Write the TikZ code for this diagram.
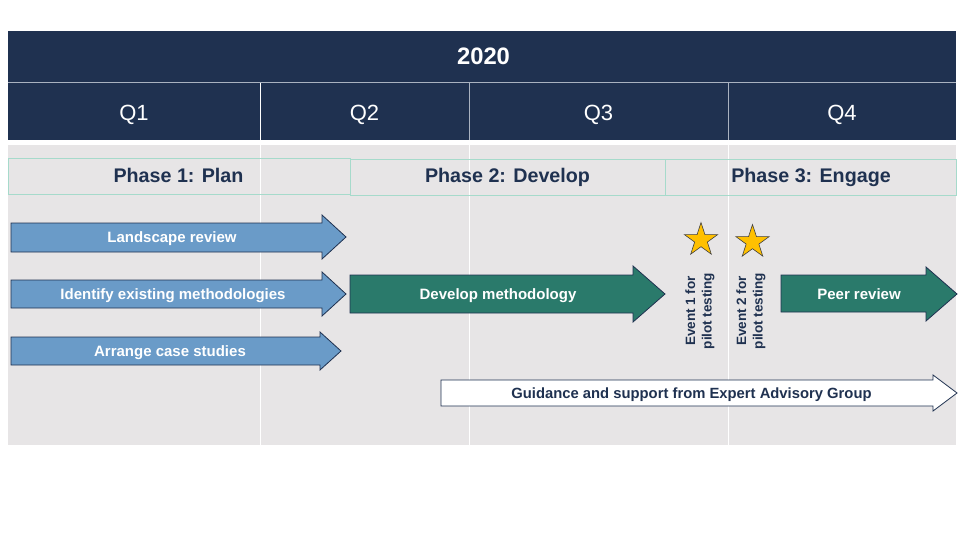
\documentclass[tikz,border=0pt]{standalone}
\usepackage{fontspec}
\setmainfont{Liberation Sans}
\usetikzlibrary{shapes.geometric}
\definecolor{navy}{HTML}{1F3150}
\definecolor{bodygray}{HTML}{E7E5E6}
\definecolor{hdrline}{HTML}{A9B2C0}
\definecolor{phaseline}{HTML}{A6DACB}
\definecolor{blueblock}{HTML}{6A9BC8}
\definecolor{greenblock}{HTML}{2A7A6B}
\definecolor{stargold}{HTML}{FFC000}
\tikzset{
  bluearrow/.style={fill=blueblock,draw=navy,line width=0.8pt},
  greenarrow/.style={fill=greenblock,draw=navy,line width=0.8pt},
  whitearrow/.style={fill=white,draw=navy,line width=0.8pt},
  arrowtext/.style={text=white,font=\bfseries\fontsize{15}{18}\selectfont,inner sep=0pt,text height=10.7pt,text depth=0pt},
  phasebox/.style={draw=phaseline,line width=0.8pt,text=navy,font=\bfseries\fontsize{19.7}{22}\selectfont,inner sep=0pt,minimum height=36pt,text height=14.1pt,text depth=0pt},
  quarter/.style={text=white,font=\fontsize{22}{26}\selectfont,inner sep=0pt,text height=15.8pt,text depth=0pt},
  eventtext/.style={text=navy,font=\bfseries\fontsize{13.5}{16.5}\selectfont,rotate=90,align=center,inner sep=0pt},
  goldstar/.style={star,star points=5,star point ratio=2.618,minimum size=35pt,inner sep=0pt,fill=stargold,draw=black!75,line width=0.6pt}
}
\begin{document}
\begin{tikzpicture}[x=1pt,y=-1pt]
\useasboundingbox (0,0) rectangle (960,540);
% header
\fill[navy] (8,31) rectangle (956,140);
\draw[hdrline,line width=1pt] (8,82.5)--(956,82.5);
\draw[white,line width=0.8pt] (260,83)--(260,140);
\draw[hdrline,line width=0.8pt] (469,83)--(469,140);
\draw[hdrline,line width=0.8pt] (728,83)--(728,140);
\node[text=white,font=\bfseries\fontsize{23.8}{27}\selectfont,inner sep=0pt,text height=17pt,text depth=0pt] (year) at (483.5,56.3) {2020};
\node[quarter] (q1) at (134,113) {Q1};
\node[quarter] (q2) at (364.5,113) {Q2};
\node[quarter] (q3) at (598.5,113) {Q3};
\node[quarter] (q4) at (842,113) {Q4};
% body
\fill[bodygray] (8,145) rectangle (956,445);
\draw[white,line width=0.8pt] (260,145)--(260,445);
\draw[white,line width=0.8pt] (469,145)--(469,445);
\draw[white,line width=0.8pt] (728,145)--(728,445);
% phases
\node[phasebox,minimum width=342pt] (phase1) at (179,176.5) {};
\node[phasebox,minimum width=315pt] (phase2) at (507.5,177) {};
\node[phasebox,minimum width=291pt] (phase3) at (810.5,177) {};
\node[phasebox,draw=none,minimum height=0pt] (plan) at (178.5,175) {Phase 1: Plan};
\node[phasebox,draw=none,minimum height=0pt] (devphase) at (507.5,175.5) {Phase 2: Develop};
\node[phasebox,draw=none,minimum height=0pt] (engage) at (811,175.5) {Phase 3: Engage};
% phase 1 arrows
\draw[bluearrow] (11,223)--(322,223)--(322,215)--(346,237)--(322,259)--(322,252)--(11,252)--cycle;
\draw[bluearrow] (11,280)--(322,280)--(322,272)--(346,294)--(322,316)--(322,308)--(11,308)--cycle;
\draw[bluearrow] (11,337)--(320,337)--(320,332)--(341,351)--(320,370)--(320,365)--(11,365)--cycle;
\node[arrowtext] (landscape) at (172,237) {Landscape review};
\node[arrowtext] (identify) at (173,294) {Identify existing methodologies};
\node[arrowtext] (arrange) at (170,351) {Arrange case studies};
% phase 2 and 3 arrows
\draw[greenarrow] (350,275)--(633,275)--(633,266)--(665,294)--(633,322)--(633,313)--(350,313)--cycle;
\draw[greenarrow] (781,275)--(926,275)--(926,267)--(957,294)--(926,321)--(926,312)--(781,312)--cycle;
\node[arrowtext] (develop) at (498,294) {Develop methodology};
\node[arrowtext] (peer) at (859,294) {Peer review};
\draw[whitearrow] (441,380)--(933,380)--(933,375)--(957,393)--(933,411)--(933,406)--(441,406)--cycle;
\node[arrowtext,text=navy,font=\bfseries\fontsize{14.8}{17}\selectfont,text height=10.6pt] (guidance) at (691.5,393) {Guidance and support from Expert Advisory Group};
% events
\node[goldstar] (star1) at (701,240) {};
\node[goldstar] (star2) at (752.5,242) {};
\node[eventtext] (event1) at (700,311) {Event 1 for\\pilot testing};
\node[eventtext] (event2) at (751,311) {Event 2 for\\pilot testing};
\end{tikzpicture}
\end{document}
